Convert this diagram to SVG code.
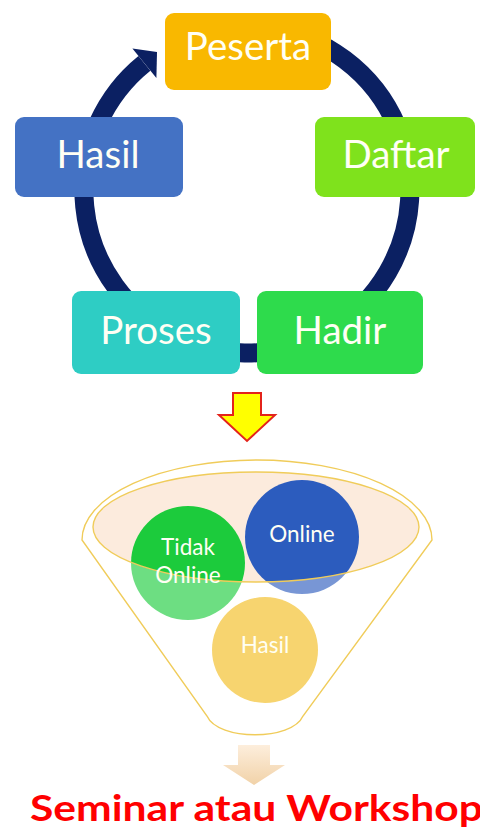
<svg xmlns="http://www.w3.org/2000/svg" width="480" height="831" viewBox="0 0 480 831">
<defs>
<style>
.box text{font-family:Lato,"Liberation Sans",sans-serif;font-size:38.5px;fill:#FFFFF4;text-anchor:middle}
.ball text{font-family:Lato,"Liberation Sans",sans-serif;font-size:22.5px;fill:#FFFFF4;text-anchor:middle}
.cyc{fill:none;stroke:#0B2062;stroke-width:19}
.fun{stroke:#F0CC5A;stroke-width:1.4}
</style>
<linearGradient id="tan" x1="0" y1="0" x2="0" y2="1">
<stop offset="0" stop-color="#FDEEDC"/>
<stop offset="1" stop-color="#F1D2A8"/>
</linearGradient>
</defs>
<rect width="480" height="831" fill="#FFFFFF"/>
<g id="connectors">
<path class="cyc" d="M191.25,36.83 A163,163 0 1 1 144.4,63.3"/>
<polygon points="132.4,48.5 157,52 156.4,78.1" fill="#0B2062"/>
<polygon points="233,393 261,393 261,415 275,415 247,441 219,415 233,415" fill="#FFFF00" stroke="#E3231B" stroke-width="2" stroke-linejoin="miter"/>
<polygon points="238,745 270,745 270,765 285,765 254,785 223,765 238,765" fill="url(#tan)"/>
</g>
<g id="peserta" class="box"><rect x="165" y="13" width="166" height="77" rx="9" fill="#F9B800"/><text x="248" y="60">Peserta</text></g>
<g id="hasil" class="box"><rect x="15" y="117" width="168" height="80" rx="9" fill="#4472C4"/><text x="98" y="168">Hasil</text></g>
<g id="daftar" class="box"><rect x="315" y="117" width="160" height="80" rx="9" fill="#7FE21C"/><text x="396" y="168">Daftar</text></g>
<g id="proses" class="box"><rect x="72" y="291" width="168" height="83" rx="9" fill="#2ECDC4"/><text x="156" y="344">Proses</text></g>
<g id="hadir" class="box"><rect x="257" y="291" width="166" height="83" rx="9" fill="#2EDB4C"/><text x="340" y="344">Hadir</text></g>
<g id="funnel">
<ellipse cx="256" cy="527" rx="163" ry="55" fill="#FCEBDD"/>
</g>
<g id="tidak-online" class="ball"><circle cx="188" cy="563" r="57" fill="#1CCB3C"/></g>
<g id="online" class="ball"><circle cx="302" cy="537" r="57" fill="#2C5CBE"/></g>
<g id="hasil-2" class="ball"><circle cx="265" cy="650" r="53" fill="#F2BC1E"/></g>
<g id="funnel-body">
<path d="M82,540 A175,80 0 0 1 432,540 L303,716 C292,741 218,741 207,716 Z M93,527 A163,55 0 0 0 419,527 A163,55 0 0 0 93,527 Z" fill="#FFFFFF" fill-opacity="0.36" fill-rule="evenodd"/>
<path class="fun" d="M82,540 A175,80 0 0 1 432,540 L303,716 C292,741 218,741 207,716 Z" fill="none"/>
<ellipse class="fun" cx="256" cy="527" rx="163" ry="55" fill="none"/>
</g>
<g class="ball">
<text x="188" y="555">Tidak</text>
<text x="188" y="583">Online</text>
<text x="302" y="542">Online</text>
<text x="265" y="653">Hasil</text>
</g>
<text x="30" y="821" textLength="453" lengthAdjust="spacingAndGlyphs" font-family="Lato,'Liberation Sans',sans-serif" font-weight="bold" font-size="36" fill="#FF0000">Seminar atau Workshop</text>
</svg>
